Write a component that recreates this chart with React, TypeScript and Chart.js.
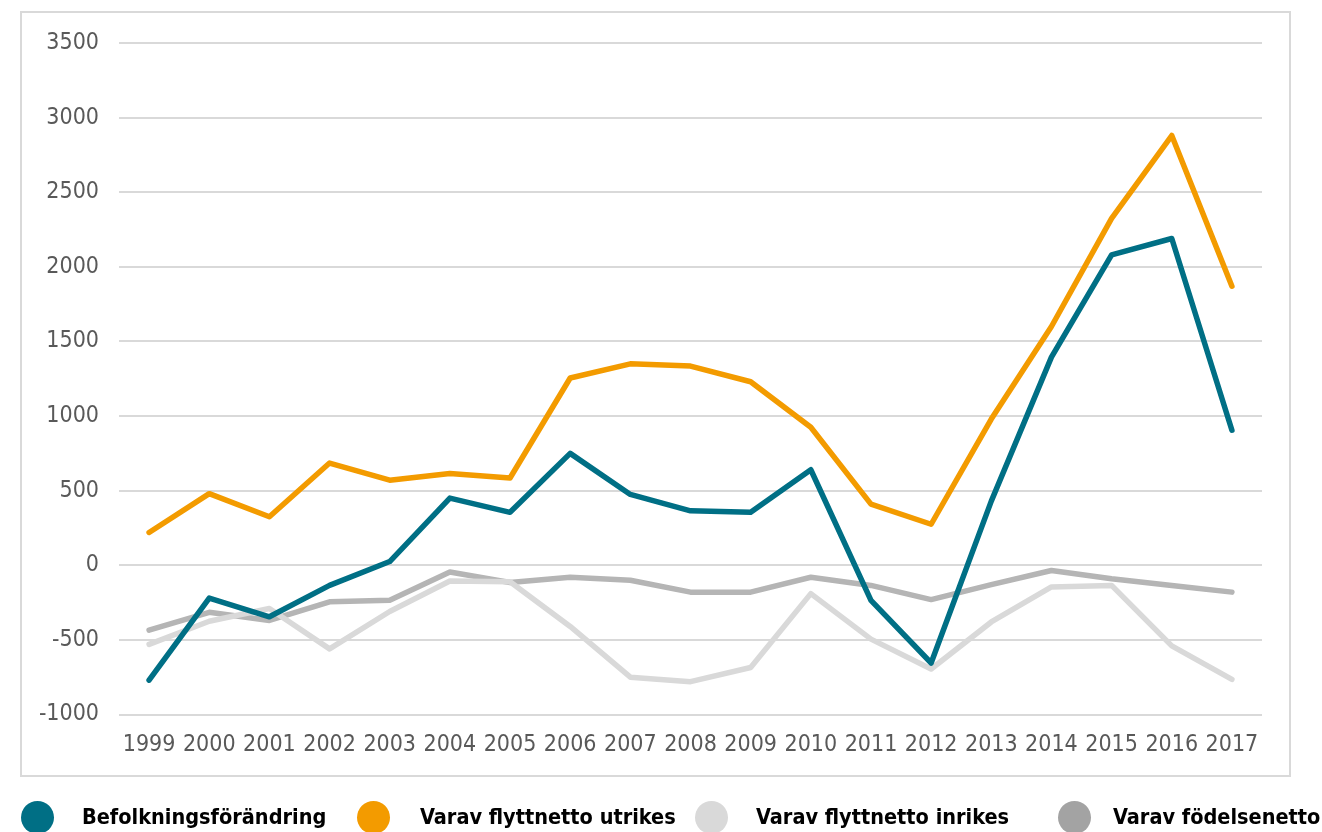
import React, { useEffect, useRef } from "react";
import { Chart, registerables } from "chart.js";

Chart.register(...registerables);

const years = ["1999", "2000", "2001", "2002", "2003", "2004", "2005", "2006", "2007", "2008", "2009", "2010", "2011", "2012", "2013", "2014", "2015", "2016", "2017"];
const befolkning = [-770, -220, -345, -135, 25, 450, 355, 750, 475, 365, 355, 640, -235, -655, 430, 1395, 2080, 2190, 905];
const utrikes = [220, 480, 325, 685, 570, 615, 585, 1255, 1350, 1335, 1230, 925, 410, 275, 980, 1600, 2325, 2880, 1870];
const inrikes = [-530, -375, -290, -560, -310, -105, -110, -410, -750, -780, -685, -190, -495, -695, -380, -145, -135, -540, -765];
const fodelsenetto = [-435, -315, -370, -245, -235, -45, -115, -80, -100, -180, -180, -80, -135, -230, -130, -35, -90, -135, -180];
const seriesNames = ["Befolkningsförändring", "Varav flyttnetto utrikes", "Varav flyttnetto inrikes", "Varav födelsenetto"];
const lineColors = ["#006F85", "#F39B00", "#D9D9D9", "#B5B5B5"];
const legendColors = ["#006F85", "#F39B00", "#D9D9D9", "#A3A3A3"];

const legendPos = [
  { cx: 37, tx: 82 },
  { cx: 373, tx: 420 },
  { cx: 711, tx: 756 },
  { cx: 1074, tx: 1113 },
];

const FONT = "'DejaVu Sans Condensed', 'DejaVu Sans', sans-serif";

const boxPlugin = {
  id: "box",
  beforeDraw(chart: any) {
    const ctx = chart.ctx;
    ctx.save();
    ctx.fillStyle = "#ffffff";
    ctx.fillRect(0, 0, chart.width, chart.height);
    ctx.strokeStyle = "#D9D9D9";
    ctx.lineWidth = 2;
    ctx.strokeRect(21, 12, 1269, 764);
    ctx.restore();
  },
};

export default function App() {
  const ref = useRef<HTMLCanvasElement | null>(null);

  useEffect(() => {
    if (!ref.current) return;
    const data = [befolkning, utrikes, inrikes, fodelsenetto];
    const chart = new Chart(ref.current, {
      type: "line",
      data: {
        labels: years,
        datasets: data.map((d, i) => ({
          label: seriesNames[i],
          data: d,
          borderColor: lineColors[i],
          backgroundColor: lineColors[i],
          borderWidth: 5.5,
          pointRadius: 0,
          pointHoverRadius: 0,
          tension: 0,
          borderCapStyle: "round" as const,
          borderJoinStyle: "round" as const,
          fill: false,
        })),
      },
      options: {
        responsive: false,
        animation: false,
        devicePixelRatio: 1,
        layout: { padding: { left: 0, right: 60, top: 43, bottom: 67.5 } },
        plugins: {
          legend: { display: false },
          tooltip: { enabled: false },
        },
        scales: {
          x: {
            type: "category",
            offset: true,
            grid: { display: false, drawTicks: false },
            border: { display: false },
            ticks: {
              color: "#595959",
              font: { family: FONT, size: 23 },
              padding: 17,
              maxRotation: 0,
              autoSkip: false,
            },
            afterFit: (s: any) => {
              s.height = 50;
            },
          },
          y: {
            min: -1000,
            max: 3500,
            grid: { color: "#D9D9D9", lineWidth: 2, drawTicks: false },
            border: { display: false },
            ticks: {
              stepSize: 500,
              color: "#595959",
              font: { family: FONT, size: 23 },
              padding: 20,
              callback: (v: any) => String(v),
            },
            afterFit: (s: any) => {
              s.width = 119;
            },
          },
        },
      },
      plugins: [boxPlugin],
    });
    return () => chart.destroy();
  }, []);

  return (
    <div style={{ position: "absolute", left: 0, top: 0, width: 1322, height: 832, overflow: "hidden", background: "#fff" }}>
      <canvas ref={ref} width={1322} height={832} style={{ position: "absolute", left: 0, top: 0 }} />
      {seriesNames.map((name, i) => (
        <React.Fragment key={name}>
          <div
            style={{
              position: "absolute",
              left: legendPos[i].cx - 16.5,
              top: 800.5,
              width: 33,
              height: 33,
              borderRadius: "50%",
              background: legendColors[i],
            }}
          />
          <div
            style={{
              position: "absolute",
              left: legendPos[i].tx,
              top: 806,
              fontFamily: FONT,
              fontWeight: "bold",
              fontSize: 21.5,
              lineHeight: "21px",
              color: "#000",
              whiteSpace: "nowrap",
            }}
          >
            {name}
          </div>
        </React.Fragment>
      ))}
    </div>
  );
}
